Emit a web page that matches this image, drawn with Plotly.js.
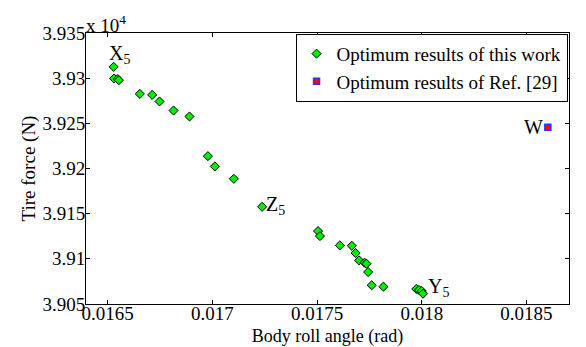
<!DOCTYPE html>
<html>
<head>
<meta charset="utf-8">
<script src="https://cdn.plot.ly/plotly-3.0.1.min.js"></script>
<style>html,body{margin:0;padding:0;background:#fff;}#chart{width:586px;height:347px;}</style>
</head>
<body>
<div id="chart"></div>
<script>
// Body roll angle (rad) of this work's optimum results
const rollThis = [0.016529, 0.016531, 0.016548, 0.016554, 0.016654, 0.016713, 0.016748, 0.016815, 0.016891,
  0.016979, 0.017012, 0.017103, 0.017238, 0.017505, 0.017514, 0.017609, 0.017666, 0.017684, 0.017701,
  0.017727, 0.017736, 0.017744, 0.017761, 0.017817, 0.017974, 0.017987, 0.018000, 0.018006];
// Tire force (N)
const forceThis = [39312.5, 39299.6, 39299.0, 39297.8, 39282.6, 39281.5, 39274.2, 39264.2, 39257.6,
  39213.7, 39202.3, 39188.6, 39157.6, 39130.7, 39125.2, 39114.9, 39114.5, 39106.4, 39098.3,
  39095.7, 39094.6, 39085.4, 39070.7, 39069.2, 39066.6, 39065.5, 39064.4, 39061.4];
// Ref. [29]
const rollRef = [0.018602];
const forceRef = [39245.8];

const xTicks = [0.0165, 0.017, 0.0175, 0.018, 0.0185];
const xTickText = ['0.0165', '0.017', '0.0175', '0.018', '0.0185'];
const yTicks = [39050, 39100, 39150, 39200, 39250, 39300, 39350];
const yTickText = ['3.905', '3.91', '3.915', '3.92', '3.925', '3.93', '3.935'];

// labelled points: [text, x, y]
const labels = [
  ['X<sub>5</sub>', rollThis[0], forceThis[0]],
  ['Z<sub>5</sub>', rollThis[12], forceThis[12]],
  ['Y<sub>5</sub>', rollThis[27], forceThis[27]],
  ['W', rollRef[0], forceRef[0]]
];

const font = 'Liberation Serif';

const traces = [
  {x: rollThis, y: forceThis, type: 'scatter', mode: 'markers', name: 'Optimum results of this work',
   marker: {symbol: 'diamond', size: 7, color: '#00ee00', line: {color: '#000', width: 1}}},
  {x: rollRef, y: forceRef, type: 'scatter', mode: 'markers', name: 'Optimum results of Ref. [29]',
   marker: {symbol: 'square', size: 6, color: '#ff0000', line: {color: '#3030ff', width: 1.5}}}
];

const ann = [
  {text: labels[0][0], x: labels[0][1], y: labels[0][2], xref: 'x', yref: 'y', showarrow: false, xanchor: 'left', yanchor: 'bottom', xshift: -7, yshift: -2},
  {text: labels[1][0], x: labels[1][1], y: labels[1][2], xref: 'x', yref: 'y', showarrow: false, xanchor: 'left', yanchor: 'middle', xshift: 2, yshift: 1},
  {text: labels[2][0], x: labels[2][1], y: labels[2][2], xref: 'x', yref: 'y', showarrow: false, xanchor: 'left', yanchor: 'bottom', xshift: 3, yshift: -8},
  {text: labels[3][0], x: labels[3][1], y: labels[3][2], xref: 'x', yref: 'y', showarrow: false, xanchor: 'right', yanchor: 'middle', xshift: -3, yshift: 0},
  {text: 'x 10<sup>4</sup>', x: 0, y: 1, xref: 'paper', yref: 'paper', showarrow: false, xanchor: 'left', yanchor: 'bottom', yshift: -5, xshift: -2, font: {family: font, size: 19, color: '#000'}}
];

function axisBase() {
  return {
    showgrid: false, zeroline: false, showline: true, linecolor: '#000', linewidth: 1,
    mirror: 'ticks', ticks: 'inside', ticklen: 4, tickcolor: '#000', tickwidth: 1, automargin: false,
    ticklabelposition: 'outside', tickfont: {family: font, size: 19, color: '#000'}
  };
}

const layout = {
  width: 586, height: 347,
  margin: {l: 86, r: 17, t: 33, b: 43},
  paper_bgcolor: '#fff', plot_bgcolor: '#fff',
  font: {family: font, size: 19, color: '#000'},
  showlegend: true,
  legend: {x: 0.997, y: 0.997, xanchor: 'right', yanchor: 'top', bgcolor: '#fff', bordercolor: '#000', borderwidth: 1,
           font: {family: font, size: 19, color: '#000'}, itemwidth: 30, tracegroupgap: 0},
  xaxis: Object.assign(axisBase(), {range: [0.016397, 0.018703], tickvals: xTicks, ticktext: xTickText,
    ticklabelstandoff: -8,
    title: {text: 'Body roll angle (rad)', font: {family: font, size: 18, color: '#000'}}}),
  yaxis: Object.assign(axisBase(), {range: [39050, 39350], tickvals: yTicks, ticktext: yTickText,
    ticklabelstandoff: -4,
    title: {text: 'Tire force (N)', font: {family: font, size: 19, color: '#000'}}}),
  annotations: ann.map(a => Object.assign({font: {family: font, size: 20, color: '#000'}}, a))
};

Plotly.newPlot('chart', traces, layout, {displayModeBar: false, staticPlot: true});
</script>
</body>
</html>
